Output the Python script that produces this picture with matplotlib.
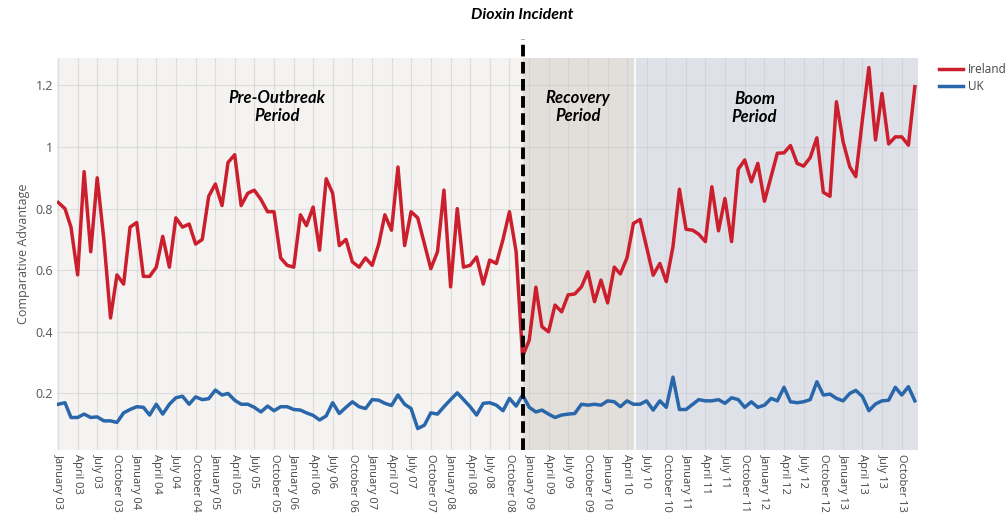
import matplotlib
matplotlib.use("Agg")
import matplotlib.pyplot as plt
import matplotlib.transforms as mtransforms
import pandas as pd

# monthly comparative advantage, January 2003 - December 2013
ireland = [0.82, 0.80, 0.74, 0.585, 0.92, 0.66, 0.90, 0.70, 0.445, 0.585, 0.555, 0.74,
           0.755, 0.58, 0.58, 0.61, 0.71, 0.61, 0.77, 0.74, 0.75, 0.685, 0.70, 0.84,
           0.88, 0.81, 0.95, 0.975, 0.81, 0.85, 0.86, 0.83, 0.79, 0.79, 0.64, 0.616,
           0.61, 0.78, 0.745, 0.805, 0.665, 0.897, 0.85, 0.68, 0.70, 0.627, 0.61, 0.64,
           0.616, 0.686, 0.78, 0.73, 0.935, 0.68, 0.79, 0.77, 0.686, 0.605, 0.66, 0.86,
           0.546, 0.80, 0.61, 0.616, 0.643, 0.555, 0.633, 0.622, 0.70, 0.79, 0.66, 0.32,
           0.373, 0.545, 0.417, 0.40, 0.487, 0.465, 0.52, 0.523, 0.546, 0.595, 0.498, 0.568,
           0.494, 0.61, 0.588, 0.64, 0.752, 0.765, 0.676, 0.584, 0.622, 0.563, 0.676, 0.863,
           0.733, 0.73, 0.717, 0.693, 0.871, 0.728, 0.833, 0.693, 0.928, 0.958, 0.887, 0.947,
           0.824, 0.904, 0.98, 0.981, 1.005, 0.947, 0.938, 0.966, 1.03, 0.853, 0.84, 1.147,
           1.017, 0.936, 0.904, 1.09, 1.258, 1.023, 1.174, 1.01, 1.033, 1.033, 1.006, 1.196]

uk = [0.165, 0.17, 0.122, 0.122, 0.133, 0.122, 0.124, 0.111, 0.111, 0.106, 0.137, 0.148,
      0.157, 0.155, 0.13, 0.165, 0.133, 0.165, 0.186, 0.191, 0.165, 0.189, 0.18, 0.183,
      0.211, 0.195, 0.20, 0.178, 0.165, 0.165, 0.155, 0.14, 0.159, 0.144, 0.157, 0.157,
      0.148, 0.146, 0.137, 0.129, 0.114, 0.127, 0.17, 0.135, 0.155, 0.173, 0.157, 0.151,
      0.18, 0.178, 0.168, 0.161, 0.195, 0.165, 0.151, 0.086, 0.097, 0.137, 0.133, 0.157,
      0.18, 0.202, 0.18, 0.157, 0.13, 0.168, 0.17, 0.162, 0.144, 0.184, 0.159, 0.195,
      0.155, 0.14, 0.146, 0.133, 0.122, 0.13, 0.133, 0.135, 0.165, 0.162, 0.165, 0.162,
      0.176, 0.173, 0.157, 0.176, 0.165, 0.165, 0.176, 0.146, 0.176, 0.155, 0.253, 0.148,
      0.148, 0.165, 0.18, 0.176, 0.176, 0.18, 0.168, 0.186, 0.18, 0.155, 0.173, 0.155,
      0.162, 0.184, 0.176, 0.22, 0.173, 0.17, 0.173, 0.18, 0.238, 0.195, 0.198, 0.184,
      0.176, 0.20, 0.21, 0.19, 0.144, 0.166, 0.176, 0.178, 0.22, 0.195, 0.222, 0.176]

months = pd.date_range("2003-01-01", periods=len(ireland), freq="MS")
incident = pd.Timestamp("2008-12-01")
boom_start = pd.Timestamp("2010-05-10")
y_ticks = [0.2, 0.4, 0.6, 0.8, 1.0, 1.2]
y_tick_labels = ["0.2", "0.4", "0.6", "0.8", "1", "1.2"]

fig = plt.figure(figsize=(10.08, 5.18), dpi=100)
ax = fig.add_axes([0.057, 0.131, 0.854, 0.757])
ax.set_facecolor("#f4f3f1")

x_right = months[-1] + pd.Timedelta(days=16)
ax.axvspan(incident, boom_start, color="#e2dfdb", zorder=0)
ax.axvspan(boom_start, x_right, color="#dee2e8", zorder=0)
ax.axvline(boom_start, color="white", lw=1.2, zorder=0.5)

ax.plot(months, ireland, color="#cc1f2e", lw=2.5, label="Ireland", zorder=3)
ax.plot(months, uk, color="#2a66aa", lw=2.5, label="UK", zorder=3)

ax.axvline(incident, ymin=0, ymax=1.048, clip_on=False, color="black",
           lw=2.8, linestyle=(0, (3, 1.4)), zorder=4)

ax.set_xlim(months[0] - pd.Timedelta(days=4), x_right)
ax.set_ylim(0.016, 1.289)

ax.set_xticks(months[::3])
ax.set_xticklabels([d.strftime("%B %y") for d in months[::3]], rotation=-90,
                   fontsize=8, color="#444444", family="Open Sans")
ax.set_yticks(y_ticks)
ax.set_yticklabels(y_tick_labels, fontsize=9, color="#555555", family="Open Sans")
ax.tick_params(length=0, pad=3)
ax.grid(True, color="#c8c8c8", alpha=0.5, lw=0.8)
ax.set_axisbelow(True)
for s in ax.spines.values():
    s.set_visible(False)

ax.set_ylabel("Comparative Advantage", fontsize=9, color="#555555",
              family="Open Sans", labelpad=4)

lbl = dict(fontsize=12, fontweight="bold", style="italic", family="Lato",
           ha="center", va="center", linespacing=1.1, color="black")
ax.text(pd.Timestamp("2005-10-15"), 1.13, "Pre-Outbreak\nPeriod", **lbl)
ax.text(pd.Timestamp("2009-08-15"), 1.13, "Recovery\nPeriod", **lbl)
ax.text(pd.Timestamp("2011-11-15"), 1.127, "Boom\nPeriod", **lbl)

trans = mtransforms.blended_transform_factory(ax.transData, fig.transFigure)
ax.text(incident, 0.971, "Dioxin Incident", transform=trans, fontsize=11.5,
        fontweight="bold", style="italic", family="Lato", ha="center", va="center")

ax.legend(loc="upper left", bbox_to_anchor=(1.018, 1.0), frameon=False,
          prop={"family": "Open Sans", "size": 8.5}, labelcolor="#444444",
          handlelength=2.1, handletextpad=0.4, borderaxespad=0, labelspacing=0.4)

fig.savefig("out.png", dpi=100)
